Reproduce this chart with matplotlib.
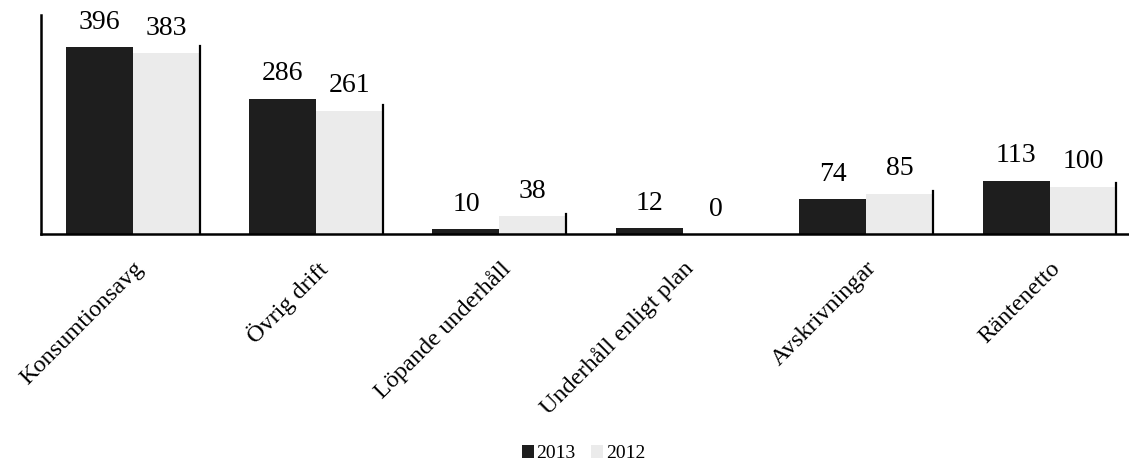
import matplotlib
matplotlib.use("Agg")
import matplotlib.pyplot as plt
from matplotlib.transforms import ScaledTranslation
import numpy as np

# Data
categories = ["Konsumtionsavg", "Övrig drift", "Löpande underhåll",
              "Underhåll enligt plan", "Avskrivningar", "Räntenetto"]
values_2013 = [396, 286, 10, 12, 74, 113]
values_2012 = [383, 261, 38, 0, 85, 100]
series_names = ["2013", "2012"]

plt.rcParams['font.family'] = ['Liberation Serif', 'DejaVu Serif']

fig = plt.figure(figsize=(11.29, 4.68), dpi=100)
ax = fig.add_axes([0.0363, 0.5, 0.9745, 0.468])

x = np.arange(len(categories))
w = 0.365
dark = ax.bar(x - w / 2, values_2013, w, color="#1e1e1e", label=series_names[0])
light = ax.bar(x + w / 2, values_2012, w, color="#ebebeb", label=series_names[1])

# thin dark edge on the right of the light bars, as in the scan
for p in light:
    if p.get_height() > 0:
        xr = p.get_x() + p.get_width()
        ax.plot([xr, xr], [0, p.get_height() * 1.03 + 4], color="black", lw=1.6)

for bars, vals in [(dark, values_2013), (light, values_2012)]:
    for p, v in zip(bars, vals):
        ax.annotate(str(v), (p.get_x() + p.get_width() / 2, p.get_height()),
                    xytext=(0, 9), textcoords="offset points",
                    ha="center", va="bottom", fontsize=20)

ax.set_xlim(-0.5, 5.5)
ax.set_ylim(0, 464)
ax.set_yticks([])
ax.set_xticks(x)
ax.set_xticklabels(categories, rotation=45, ha="right", rotation_mode="anchor",
                   fontsize=17.5)
ax.tick_params(axis="x", length=0, pad=17)
offset = ScaledTranslation(0.0, 0, fig.dpi_scale_trans)
for lbl in ax.get_xticklabels():
    lbl.set_transform(lbl.get_transform() + offset)

ax.spines["top"].set_visible(False)
ax.spines["right"].set_visible(False)
ax.spines["left"].set_linewidth(1.8)
ax.spines["bottom"].set_linewidth(1.8)

fig.legend(handles=[dark, light], labels=series_names, loc="lower center",
           bbox_to_anchor=(0.517, -0.025), ncol=2, frameon=False, fontsize=14,
           handlelength=0.6, handleheight=0.6, handletextpad=0.15,
           columnspacing=0.8)

fig.savefig("out.png", dpi=100)
